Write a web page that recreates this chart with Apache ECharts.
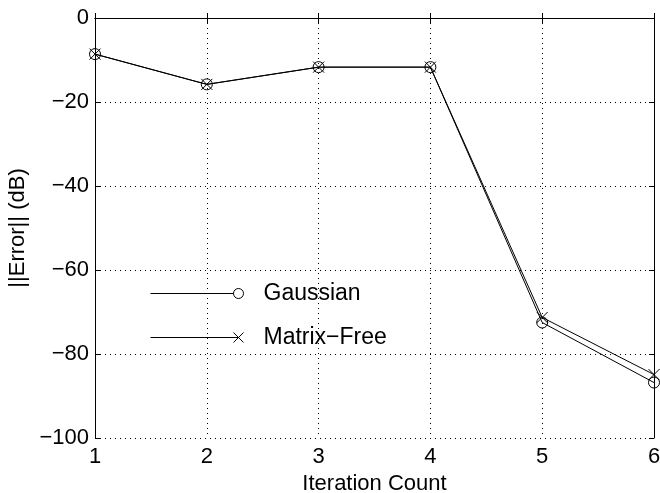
<!DOCTYPE html>
<html>
<head>
<meta charset="utf-8">
<script src="https://cdn.jsdelivr.net/npm/echarts@6/dist/echarts.min.js"></script>
<style>html,body{margin:0;padding:0;background:#fff}#c{width:660px;height:493px}</style>
</head>
<body>
<div id="c"></div>
<script>
var iterations = [1, 2, 3, 4, 5, 6];
var gaussian = [-8.6, -15.8, -11.7, -11.7, -72.5, -86.8];
var matrixFree = [-8.6, -15.8, -11.7, -11.7, -71.3, -84.9];
var seriesNames = ['Gaussian', 'Matrix\u2212Free'];

var FONT = 'Liberation Sans';
function minus(v) { return String(v).replace('-', '\u2212'); }
function pairs(xs, ys) { return xs.map(function (x, i) { return [x, ys[i]]; }); }

var chart = echarts.init(document.getElementById('c'), null, { renderer: 'canvas' });
var dotted = { show: true, lineStyle: { color: '#000', width: 1, type: [1, 4] } };
var tick = { show: true, inside: true, length: 5, lineStyle: { color: '#000', width: 1 } };
var axisLine = { show: true, lineStyle: { color: '#000', width: 1 } };
var labelStyle = { color: '#000', fontFamily: FONT, fontSize: 22 };

chart.setOption({
  animation: false,
  backgroundColor: '#fff',
  grid: { left: 95, right: 6, top: 18, bottom: 55, containLabel: false, outerBoundsMode: 'none' },
  xAxis: [{
    type: 'value', min: 1, max: 6, interval: 1, position: 'bottom',
    name: 'Iteration Count', nameLocation: 'middle', nameGap: 29,
    nameTextStyle: { color: '#000', fontFamily: FONT, fontSize: 22 },
    axisLine: axisLine, axisTick: tick, splitLine: dotted,
    axisLabel: Object.assign({ margin: 8, formatter: minus }, labelStyle)
  }, {
    type: 'value', min: 1, max: 6, interval: 1, position: 'top',
    axisLine: axisLine, axisTick: tick, splitLine: { show: false }, axisLabel: { show: false }
  }],
  yAxis: [{
    type: 'value', min: -100, max: 0, interval: 20, position: 'left',
    name: '||Error|| (dB)', nameLocation: 'middle', nameGap: 64,
    nameTextStyle: { color: '#000', fontFamily: FONT, fontSize: 22 },
    axisLine: axisLine, axisTick: tick, splitLine: dotted,
    axisLabel: Object.assign({ margin: 6, formatter: minus }, labelStyle)
  }, {
    type: 'value', min: -100, max: 0, interval: 20, position: 'right',
    axisLine: axisLine, axisTick: tick, splitLine: { show: false }, axisLabel: { show: false }
  }],
  legend: {
    orient: 'vertical', left: 150, top: 282, itemGap: 21, padding: 0,
    itemWidth: 93, itemHeight: 10,
    textStyle: { color: '#000', fontFamily: FONT, fontSize: 23, padding: [0, 0, 0, 15] },
    data: [
      { name: seriesNames[0], icon: 'path://M0,5 L83,5 M83,5 A5,5 0 1,1 93,5 A5,5 0 1,1 83,5',
        itemStyle: { color: 'transparent', borderColor: '#000', borderWidth: 1 } },
      { name: seriesNames[1], icon: 'path://M0,5 L88,5 M83,0 L93,10 M93,0 L83,10',
        itemStyle: { color: 'transparent', borderColor: '#000', borderWidth: 1 } }
    ]
  },
  series: [{
    name: seriesNames[0], type: 'line', data: pairs(iterations, gaussian),
    symbol: 'circle', symbolSize: 11, showAllSymbol: true,
    lineStyle: { color: '#000', width: 1 },
    itemStyle: { color: 'transparent', borderColor: '#000', borderWidth: 1 }
  }, {
    name: seriesNames[1], type: 'line', data: pairs(iterations, matrixFree),
    symbol: 'path://M0,0 L10,10 M10,0 L0,10', symbolSize: 11, showAllSymbol: true,
    lineStyle: { color: '#000', width: 1 },
    itemStyle: { color: 'transparent', borderColor: '#000', borderWidth: 1 }
  }]
});
</script>
</body>
</html>
